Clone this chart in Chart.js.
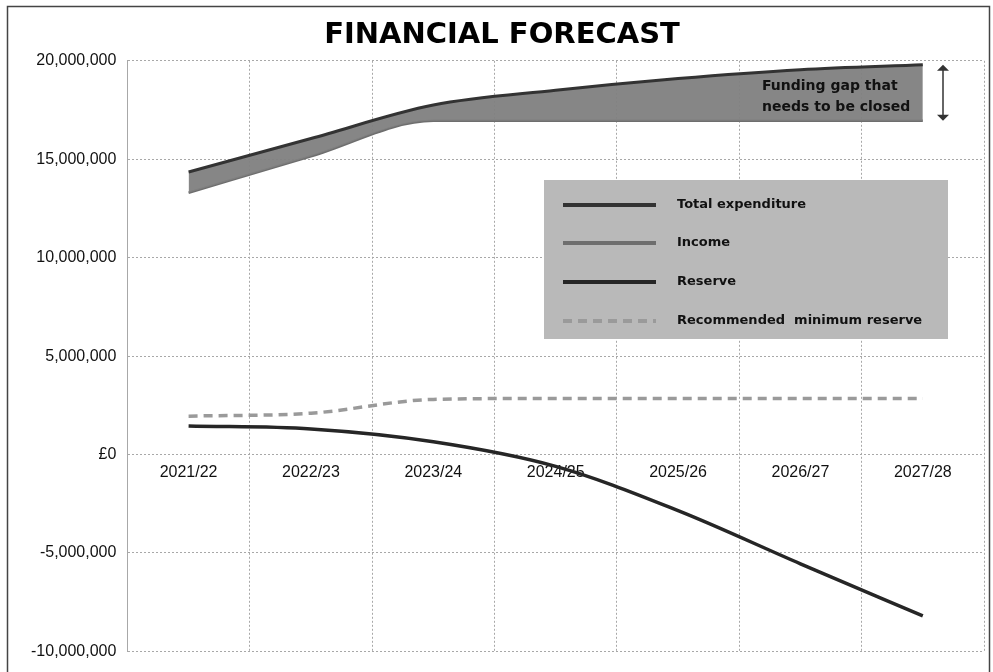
<!DOCTYPE html>
<html>
<head>
<meta charset="utf-8">
<script src="https://cdn.jsdelivr.net/npm/chart.js"></script>
<style>
  html, body { margin: 0; padding: 0; background: #fff; }
  #wrap { width: 993px; height: 672px; }
</style>
</head>
<body>
<div id="wrap"><canvas id="forecastCanvas" width="993" height="672"></canvas></div>
<script>
// ------------------------- data -------------------------
const years = ['2021/22', '2022/23', '2023/24', '2024/25', '2025/26', '2026/27', '2027/28'];
const totalExpenditure = [14350000, 16050000, 17750000, 18500000, 19100000, 19550000, 19800000];
const income = [13300000, 15150000, 16950000, 16950000, 16950000, 16950000, 16950000];
const reserve = [1450000, 1300000, 650000, -600000, -2850000, -5550000, -8200000];
const minReserve = [1950000, 2100000, 2800000, 2850000, 2850000, 2850000, 2850000];
const yTicks = [-10000000, -5000000, 0, 5000000, 10000000, 15000000, 20000000];

const FONT = 'Liberation Sans, Arial, sans-serif';
const WIDE = 'DejaVu Sans, Verdana, sans-serif';

// ---------------------- plugins -------------------------
// outer frame like the scanned sheet
const framePlugin = {
    id: 'frame',
    beforeDraw(chart) {
        const ctx = chart.ctx;
        ctx.save();
        ctx.fillStyle = '#fff';
        ctx.fillRect(0, 0, chart.width, chart.height);
        ctx.strokeStyle = '#444';
        ctx.lineWidth = 1.5;
        ctx.strokeRect(7.5, 6.5, 982, 700);
        ctx.restore();
    }
};

// legend box drawn inside the plot
const boxLegend = {
    id: 'boxLegend',
    afterDatasetsDraw(chart) {
        const ctx = chart.ctx;
        const x = 544, y = 180, w = 404, h = 159;
        ctx.save();
        ctx.fillStyle = '#b9b9b9';
        ctx.fillRect(x, y, w, h);
        const rows = [205, 243, 282, 321];
        chart.data.datasets.forEach((ds, i) => {
            ctx.strokeStyle = ds.borderColor;
            ctx.lineWidth = 4;
            ctx.setLineDash(ds.borderDash || []);
            ctx.beginPath();
            ctx.moveTo(563, rows[i]);
            ctx.lineTo(656, rows[i]);
            ctx.stroke();
            ctx.setLineDash([]);
            ctx.fillStyle = '#111';
            ctx.font = 'bold 13px ' + WIDE;
            ctx.textAlign = 'left';
            ctx.textBaseline = 'middle';
            ctx.fillText(ds.label, 677, rows[i]);
        });
        ctx.restore();
    }
};

// funding gap note + double arrow
const gapNote = {
    id: 'gapNote',
    afterDatasetsDraw(chart) {
        const ctx = chart.ctx;
        const ys = chart.scales.y;
        const top = ys.getPixelForValue(totalExpenditure[totalExpenditure.length - 1]);
        const bot = ys.getPixelForValue(income[income.length - 1]);
        const ax = 943;
        ctx.save();
        ctx.fillStyle = '#111';
        ctx.font = 'bold 14px ' + WIDE;
        ctx.textAlign = 'left';
        ctx.textBaseline = 'middle';
        ctx.fillText('Funding gap that', 762, 86);
        ctx.fillText('needs to be closed', 762, 107);

        ctx.strokeStyle = '#333';
        ctx.fillStyle = '#333';
        ctx.lineWidth = 1.5;
        ctx.beginPath();
        ctx.moveTo(ax, top + 4);
        ctx.lineTo(ax, bot - 4);
        ctx.stroke();
        ctx.beginPath();
        ctx.moveTo(ax, top);
        ctx.lineTo(ax - 6, top + 6);
        ctx.lineTo(ax + 6, top + 6);
        ctx.closePath();
        ctx.fill();
        ctx.beginPath();
        ctx.moveTo(ax, bot);
        ctx.lineTo(ax - 6, bot - 6);
        ctx.lineTo(ax + 6, bot - 6);
        ctx.closePath();
        ctx.fill();
        ctx.restore();
    }
};

// ------------------------ chart -------------------------
const ctxChart = document.getElementById('forecastCanvas');

new Chart(ctxChart, {
    type: 'line',
    data: {
        labels: years,
        datasets: [
            {
                label: 'Total expenditure',
                data: totalExpenditure,
                borderColor: '#333333',
                backgroundColor: 'rgba(128,128,128,0.95)',
                borderWidth: 3,
                fill: '+1',
                cubicInterpolationMode: 'monotone'
            },
            {
                label: 'Income',
                data: income,
                borderColor: '#6e6e6e',
                backgroundColor: '#8c8c8c',
                borderWidth: 2.5,
                fill: false,
                cubicInterpolationMode: 'monotone'
            },
            {
                label: 'Reserve',
                data: reserve,
                borderColor: '#262626',
                backgroundColor: '#262626',
                borderWidth: 3.5,
                fill: false,
                cubicInterpolationMode: 'monotone'
            },
            {
                label: 'Recommended  minimum reserve',
                data: minReserve,
                borderColor: '#9a9a9a',
                backgroundColor: '#9a9a9a',
                borderWidth: 3.5,
                borderDash: [9, 6],
                fill: false,
                cubicInterpolationMode: 'monotone'
            }
        ]
    },
    options: {
        responsive: false,
        animation: false,
        layout: { padding: { left: 20, right: 9, top: 0, bottom: 20 } },
        elements: { point: { radius: 0 } },
        plugins: {
            legend: { display: false },
            tooltip: { enabled: false },
            title: {
                display: true,
                text: 'FINANCIAL FORECAST',
                color: '#000',
                font: { family: WIDE, size: 29, weight: 'bold' },
                padding: { top: 18, bottom: 8 }
            }
        },
        scales: {
            x: {
                type: 'category',
                position: { y: 0 },
                offset: true,
                grid: { offset: true, color: '#a8a8a8', drawTicks: false },
                border: { display: false, dash: [2, 2] },
                ticks: {
                    color: '#111',
                    font: { family: FONT, size: 16 },
                    padding: 8,
                    maxRotation: 0
                }
            },
            y: {
                min: -10000000,
                max: 20000000,
                afterBuildTicks(axis) {
                    axis.ticks = yTicks.map(v => ({ value: v }));
                },
                grid: { color: '#a8a8a8', drawTicks: false },
                border: { display: true, color: '#a8a8a8', dash: [2, 2] },
                ticks: {
                    color: '#111',
                    font: { family: FONT, size: 16 },
                    padding: 11,
                    callback: v => v === 0 ? '£0' : Number(v).toLocaleString('en-GB')
                }
            }
        }
    },
    plugins: [framePlugin, boxLegend, gapNote]
});
</script>
</body>
</html>
